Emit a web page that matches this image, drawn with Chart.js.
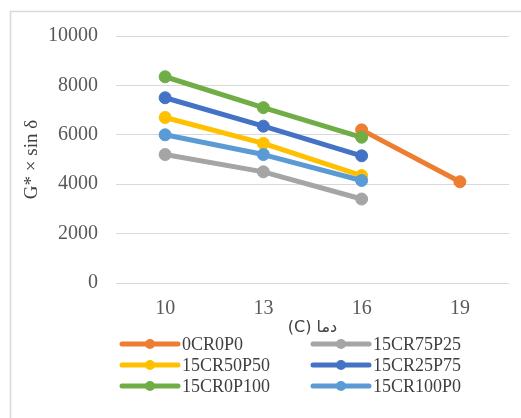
<!DOCTYPE html>
<html>
<head>
<meta charset="utf-8">
<script src="https://cdn.jsdelivr.net/npm/chart.js@4/dist/chart.umd.min.js"></script>
<style>
  html, body { margin: 0; padding: 0; background: #fff; }
  #wrap { width: 521px; height: 418px; position: relative; }
</style>
</head>
<body>
<div id="wrap"><canvas id="c" width="521" height="418"></canvas></div>
<script>
// Temperature categories (°C)
const temperatures = ['10', '13', '16', '19'];

// G* × sin δ per blend
const s0CR0P0     = [null, null, 6200, 4100];
const s15CR75P25  = [5200, 4500, 3400, null];
const s15CR50P50  = [6700, 5650, 4350, null];
const s15CR25P75  = [7500, 6350, 5150, null];
const s15CR0P100  = [8350, 7100, 5900, null];
const s15CR100P0  = [6000, 5200, 4150, null];

const seriesNames  = ['0CR0P0', '15CR75P25', '15CR50P50', '15CR25P75', '15CR0P100', '15CR100P0'];
const seriesValues = [s0CR0P0, s15CR75P25, s15CR50P50, s15CR25P75, s15CR0P100, s15CR100P0];
const seriesColors = ['#ED7D31', '#A5A5A5', '#FFC000', '#4472C4', '#70AD47', '#5B9BD5'];

const yTicks = [0, 2000, 4000, 6000, 8000, 10000];

const SERIF = '"Liberation Serif", "Times New Roman", serif';
const TEXT = '#595959';

const datasets = seriesNames.map((name, i) => ({
  label: name,
  data: seriesValues[i],
  borderColor: seriesColors[i],
  backgroundColor: seriesColors[i],
  pointBackgroundColor: seriesColors[i],
  pointBorderColor: seriesColors[i],
  borderWidth: 5,
  pointRadius: 6,
  pointBorderWidth: 1,
  borderCapStyle: 'round',
  borderJoinStyle: 'round',
  tension: 0,
  // later series sit on top
  order: seriesNames.length - i
}));

// White background and the light frame around the chart
const framePlugin = {
  id: 'frame',
  beforeDraw(chart) {
    const ctx = chart.ctx;
    ctx.save();
    ctx.fillStyle = '#ffffff';
    ctx.fillRect(0, 0, chart.width, chart.height);
    ctx.strokeStyle = '#d9d9d9';
    ctx.lineWidth = 1.5;
    ctx.beginPath();
    ctx.moveTo(10.5, chart.height);
    ctx.lineTo(10.5, 11.5);
    ctx.lineTo(chart.width, 11.5);
    ctx.stroke();
    ctx.restore();
  }
};

// Two-column legend with line-and-marker symbols
const gridLegendPlugin = {
  id: 'gridLegend',
  afterDraw(chart) {
    const ctx = chart.ctx;
    const colX = [122, 313];
    const rowY = [344, 365, 386];
    const lineLen = 56;
    ctx.save();
    chart.data.datasets.forEach((ds, i) => {
      const x = colX[i % 2];
      const y = rowY[Math.floor(i / 2)];
      ctx.strokeStyle = ds.borderColor;
      ctx.lineWidth = 5;
      ctx.lineCap = 'round';
      ctx.beginPath();
      ctx.moveTo(x, y);
      ctx.lineTo(x + lineLen, y);
      ctx.stroke();
      ctx.fillStyle = ds.borderColor;
      ctx.beginPath();
      ctx.arc(x + lineLen / 2, y, 5, 0, Math.PI * 2);
      ctx.fill();
      ctx.fillStyle = '#404040';
      ctx.font = '18px ' + SERIF;
      ctx.textAlign = 'left';
      ctx.textBaseline = 'middle';
      ctx.fillText(ds.label, x + lineLen + 4, y + 1);
    });
    ctx.restore();
  }
};

new Chart(document.getElementById('c'), {
  type: 'line',
  data: { labels: temperatures, datasets },
  plugins: [framePlugin, gridLegendPlugin],
  options: {
    responsive: false,
    animation: false,
    devicePixelRatio: 1,
    layout: { padding: { left: 0, right: 12, top: 36, bottom: 75 } },
    plugins: {
      legend: { display: false },
      tooltip: { enabled: false }
    },
    scales: {
      x: {
        type: 'category',
        offset: true,
        grid: { display: false, drawTicks: false },
        border: { display: false },
        ticks: {
          color: TEXT,
          padding: 14,
          font: { family: SERIF, size: 20 },
          maxRotation: 0
        },
        title: {
          display: true,
          text: '\u202Bدما (C)\u202C',
          color: '#404040',
          font: { family: '"DejaVu Sans", sans-serif', size: 16 },
          padding: { top: 0, bottom: 6 }
        },
        afterFit(scale) { scale.height = 60; }
      },
      y: {
        min: 0,
        max: 10000,
        grid: { color: '#d9d9d9', lineWidth: 1, drawTicks: false },
        border: { display: false },
        afterBuildTicks(scale) { scale.ticks = yTicks.map(v => ({ value: v })); },
        ticks: {
          color: TEXT,
          padding: 18,
          font: { family: SERIF, size: 20 },
          callback: v => String(v)
        },
        title: {
          display: true,
          text: 'G* × sin δ',
          color: '#404040',
          font: { family: SERIF, size: 19 },
          padding: { top: 21, bottom: 0 }
        },
        afterFit(scale) { scale.width = 116; }
      }
    }
  }
});
</script>
</body>
</html>
